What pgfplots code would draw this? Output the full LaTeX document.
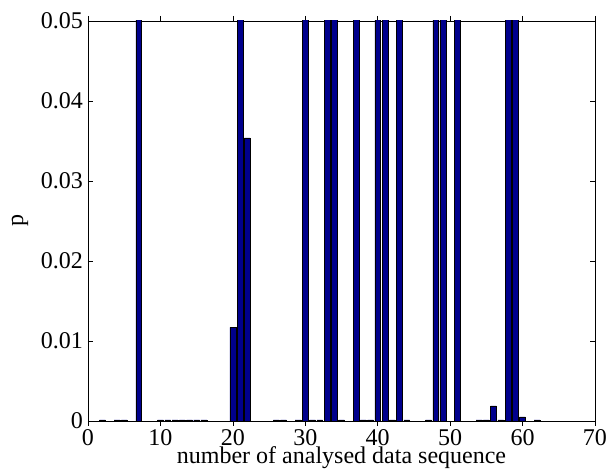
\documentclass[border=0pt]{standalone}
\usepackage{fontspec}
\setmainfont{Liberation Serif}
\usepackage{pgfplots}
\pgfplotsset{compat=1.18}
\definecolor{barblue}{RGB}{0,0,140}
\pgfplotstableread{
x y
2 0.00015
4 0.00015
5 0.00015
7 0.1
10 0.00015
11 0.00015
12 0.00015
13 0.00015
14 0.00015
15 0.00015
16 0.00015
20 0.0117
21 0.1
22 0.0354
26 0.00015
27 0.00015
29 0.00015
30 0.1
31 0.00015
32 0.00015
33 0.1
34 0.1
35 0.00015
37 0.1
38 0.00015
39 0.00015
40 0.1
41 0.1
42 0.00015
43 0.1
44 0.00015
47 0.00015
48 0.1
49 0.1
51 0.1
54 0.00015
55 0.00015
56 0.0019
57 0.00015
58 0.1
59 0.1
60 0.00050
62 0.00015
}\datatable
\begin{document}
\begin{tikzpicture}
\useasboundingbox (-88pt,-50pt) rectangle (518pt,421pt);
\begin{axis}[
  at={(0pt,0pt)}, anchor=south west,
  width=507pt, height=400pt, scale only axis,
  xmin=0, xmax=70, ymin=0, ymax=0.05,
  xtick={0,10,...,70},
  ytick={0,0.01,0.02,0.03,0.04,0.05},
  yticklabels={0,0.01,0.02,0.03,0.04,0.05},
  scaled y ticks=false,
  tick align=inside,
  major tick length=5pt,
  axis line style={line width=0.9pt},
  every tick/.style={black, line width=0.6pt},
  tick label style={font=\fontsize{24}{28}\selectfont},
  /pgf/number format/assume math mode=true,
  xticklabel style={anchor=base, yshift=-20pt, inner sep=0pt},
  yticklabel style={anchor=east, inner sep=0pt, xshift=-5pt},
  label style={font=\fontsize{24}{28}\selectfont},
  xlabel={number of analysed data sequence},
  xlabel style={at={(axis description cs:0.5,0)}, anchor=base, yshift=-43pt, inner sep=0pt},
  ylabel={p},
  ylabel style={at={(axis description cs:0,0.5)}, anchor=center, yshift=68pt},
  ybar, bar width=0.8, bar shift=0pt,
]
\addplot[fill=barblue, draw=black, line width=0.4pt] table[x=x,y=y] {\datatable};
\end{axis}
\end{tikzpicture}
\end{document}
